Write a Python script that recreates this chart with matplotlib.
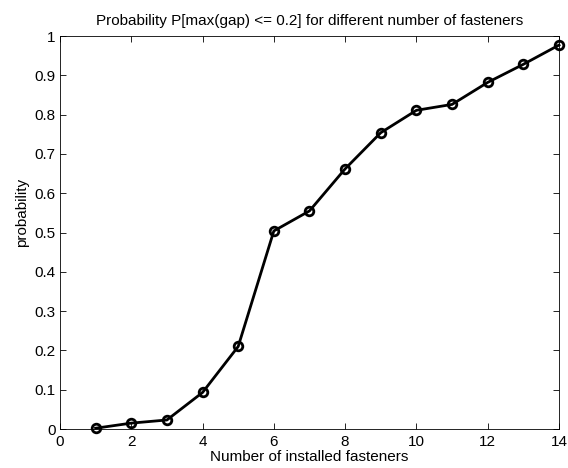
import matplotlib
matplotlib.use("Agg")
import matplotlib.pyplot as plt

# Probability that the largest gap stays within 0.2, per fastener count
fasteners = [1, 2, 3, 4, 5, 6, 7, 8, 9, 10, 11, 12, 13, 14]
probability = [0.002, 0.015, 0.023, 0.093, 0.210, 0.504, 0.555, 0.662,
               0.754, 0.811, 0.826, 0.882, 0.928, 0.977]

x_ticks = [0, 2, 4, 6, 8, 10, 12, 14]
y_ticks = [0, 0.1, 0.2, 0.3, 0.4, 0.5, 0.6, 0.7, 0.8, 0.9, 1]
y_ticklabels = ["0", "0.1", "0.2", "0.3", "0.4", "0.5", "0.6", "0.7", "0.8", "0.9", "1"]

plt.rcParams["font.family"] = ["Liberation Sans", "DejaVu Sans"]
plt.rcParams["font.size"] = 11

fig = plt.figure(figsize=(5.68, 4.68), dpi=100)
ax = fig.add_axes([0.1056, 0.0833, 0.8785, 0.8397])

ax.plot(fasteners, probability, color="black", linewidth=2.0,
        marker="o", markersize=6.2, markerfacecolor="none",
        markeredgewidth=2.0, clip_on=False, zorder=3)

ax.set_xlim(0, 14)
ax.set_ylim(0, 1)
ax.set_xticks(x_ticks)
ax.set_yticks(y_ticks)
ax.set_yticklabels(y_ticklabels)
ax.tick_params(direction="in", top=True, right=True, length=4, width=0.6,
               labelsize=11)
ax.tick_params(axis="x", pad=4)
ax.tick_params(axis="y", pad=3)
for side in ax.spines.values():
    side.set_linewidth(0.6)

ax.set_title("Probability P[max(gap) <= 0.2] for different number of fasteners",
             fontsize=11, pad=8)
ax.set_xlabel("Number of installed fasteners", fontsize=11, labelpad=1)
ax.set_ylabel("probability", fontsize=11)
ax.yaxis.set_label_coords(-0.062, 0.55)

fig.savefig("out.png", dpi=100)
